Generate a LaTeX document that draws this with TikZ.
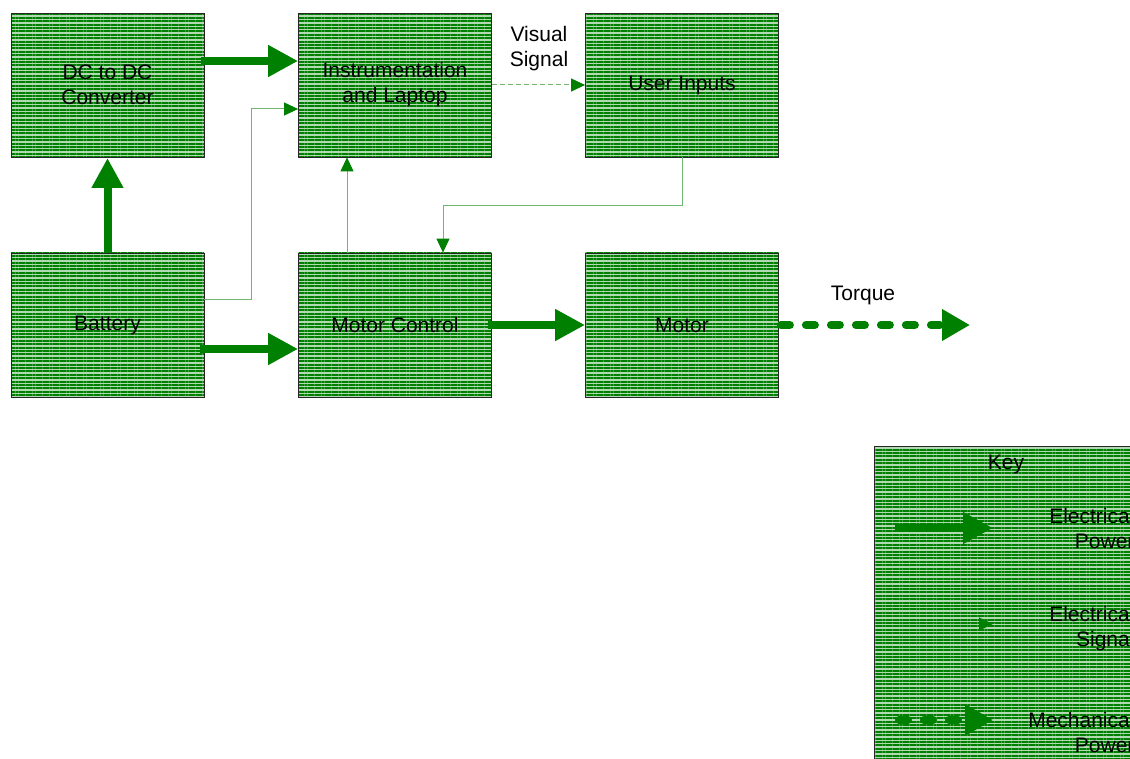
\documentclass[tikz,border=0pt]{standalone}
\usepackage{fontspec}
\setmainfont{Liberation Sans}
\usetikzlibrary{arrows.meta,patterns.meta}
\definecolor{pgreen}{RGB}{0,128,0}
\definecolor{sgreen}{RGB}{112,182,112}
\begin{document}
\begin{tikzpicture}[x=1pt,y=-1pt,font=\fontsize{21}{25}\selectfont]

    \tikzset{blockstyle/.style={draw=black!85,line width=0.8pt,minimum width=193pt,minimum height=144pt,align=center,
        preaction={fill=pgreen!30},pattern={Lines[angle=0,distance=3.4pt,line width=2pt]},pattern color=pgreen}}
    \tikzset{power/.style={draw=pgreen,line width=8pt,-{Triangle[length=30pt,width=30pt,color=pgreen]}}}
    \tikzset{signal/.style={draw=sgreen,line width=1pt,-{Triangle[length=14pt,width=13pt,color=pgreen]}}}
    \tikzset{mech/.style={draw=pgreen,line width=8pt,line cap=round,dash pattern=on 9pt off 16pt,-{Triangle[length=28pt,width=30pt,color=pgreen]}}}

    \useasboundingbox (0,0) rectangle (1130,759);
    \clip (0,0) rectangle (1130,759);

    \node[blockstyle] (dcdc) at (107.5,85) {DC to DC\\Converter};
    \node[blockstyle] (instr) at (395,85) {Instrumentation\\and Laptop};
    \node[blockstyle] (user) at (682,85) {User Inputs};
    \node[blockstyle] (bat) at (107.5,325) {Battery};
    \node[blockstyle] (mc) at (395,325) {Motor Control};
    \node[blockstyle] (motor) at (682,325) {Motor};
    \node (vis) at (539,49) [align=center] {Visual\\Signal};
    \node (tql) at (863,295) {Torque};
    \coordinate (tq) at (970,325);

    % key
    \node[blockstyle,anchor=north west,minimum width=330pt,minimum height=340pt] (key) at (874,446) {};
    \node (keyt) at (1006,464) {Key};
    \coordinate (k1s) at (895,528); \coordinate (k1e) at (993,528);
    \coordinate (k2s) at (898,624); \coordinate (k2e) at (993,624);
    \coordinate (k3s) at (899,720); \coordinate (k3e) at (993,720);
    \node[anchor=east,align=right] (k1) at (1138,528) {Electrical\\Power};
    \node[anchor=east,align=right] (k2) at (1138,629) {Electrical\\Signal};
    \node[anchor=east,align=right] (k3) at (1138,732) {Mechanical\\Power};

    \begin{scope}
        \draw[power] ([yshift=24pt,xshift=-4pt]dcdc.east) -- ([yshift=24pt]instr.west);
        \draw[power] (bat.north) -- (dcdc.south);
        \draw[power] ([yshift=-24pt,xshift=-4pt]bat.east) -- ([yshift=-24pt]mc.west);
        \draw[power] ([xshift=-4pt]mc.east) -- (motor.west);
        \draw[mech] ([xshift=2pt]motor.east) -- (tq);
        \draw[signal] ([yshift=25pt]bat.east) -- ++(47,0) |- ([yshift=-24pt]instr.west);
        \draw[signal] ([xshift=-48pt]mc.north) -- ([xshift=-48pt]instr.south);
        \draw[signal] (user.south) -- ++(0,48) -| ([xshift=48pt]mc.north);
        \draw[signal,dash pattern=on 5pt off 3pt] (instr.east) -- (user.west);
        \draw[power] (k1s) -- (k1e);
        \draw[signal,draw=pgreen!35] (k2s) -- (k2e);
        \draw[mech] (k3s) -- (k3e);
    \end{scope}
\end{tikzpicture}
\end{document}
